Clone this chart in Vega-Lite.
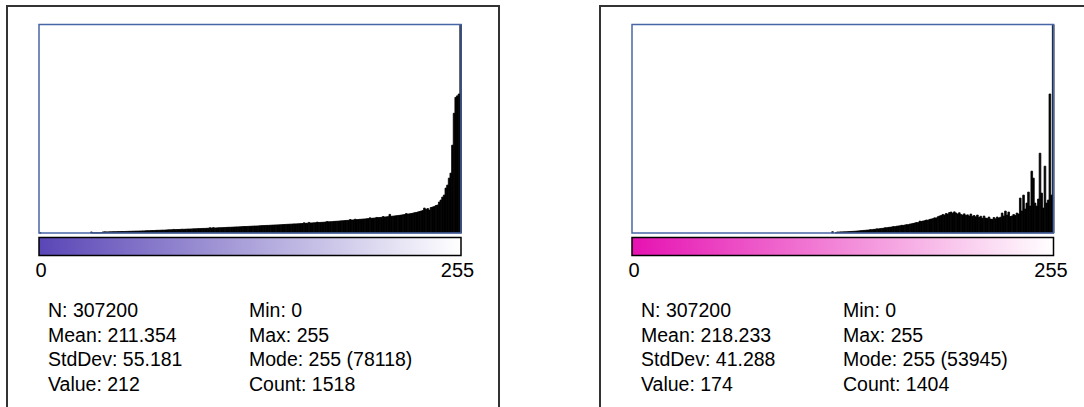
{
"$schema": "https://vega.github.io/schema/vega-lite/v6.json",
"background": "white",
"padding": {"left": 6, "top": 5, "right": 0, "bottom": 0},
"config": {"view": {"stroke": "#333333", "strokeWidth": 2}, "font": "Liberation Sans"},
"spacing": 99,
"datasets": {
"h1": [{"v":0,"c":10},{"v":1,"c":0},{"v":2,"c":0},{"v":3,"c":0},{"v":4,"c":0},{"v":5,"c":0},{"v":6,"c":0},{"v":7,"c":0},{"v":8,"c":0},{"v":9,"c":0},{"v":10,"c":0},{"v":11,"c":0},{"v":12,"c":0},{"v":13,"c":0},{"v":14,"c":0},{"v":15,"c":0},{"v":16,"c":0},{"v":17,"c":0},{"v":18,"c":0},{"v":19,"c":0},{"v":20,"c":0},{"v":21,"c":0},{"v":22,"c":0},{"v":23,"c":0},{"v":24,"c":0},{"v":25,"c":0},{"v":26,"c":0},{"v":27,"c":0},{"v":28,"c":0},{"v":29,"c":0},{"v":30,"c":0},{"v":31,"c":82},{"v":32,"c":10},{"v":33,"c":12},{"v":34,"c":10},{"v":35,"c":15},{"v":36,"c":12},{"v":37,"c":20},{"v":38,"c":82},{"v":39,"c":98},{"v":40,"c":90},{"v":41,"c":90},{"v":42,"c":98},{"v":43,"c":98},{"v":44,"c":106},{"v":45,"c":106},{"v":46,"c":106},{"v":47,"c":114},{"v":48,"c":114},{"v":49,"c":122},{"v":50,"c":122},{"v":51,"c":122},{"v":52,"c":130},{"v":53,"c":130},{"v":54,"c":139},{"v":55,"c":139},{"v":56,"c":147},{"v":57,"c":147},{"v":58,"c":155},{"v":59,"c":155},{"v":60,"c":163},{"v":61,"c":163},{"v":62,"c":171},{"v":63,"c":171},{"v":64,"c":179},{"v":65,"c":187},{"v":66,"c":187},{"v":67,"c":196},{"v":68,"c":204},{"v":69,"c":204},{"v":70,"c":212},{"v":71,"c":220},{"v":72,"c":220},{"v":73,"c":228},{"v":74,"c":236},{"v":75,"c":236},{"v":76,"c":245},{"v":77,"c":253},{"v":78,"c":261},{"v":79,"c":261},{"v":80,"c":269},{"v":81,"c":293},{"v":82,"c":277},{"v":83,"c":285},{"v":84,"c":285},{"v":85,"c":293},{"v":86,"c":310},{"v":87,"c":302},{"v":88,"c":310},{"v":89,"c":318},{"v":90,"c":326},{"v":91,"c":326},{"v":92,"c":334},{"v":93,"c":342},{"v":94,"c":342},{"v":95,"c":350},{"v":96,"c":359},{"v":97,"c":359},{"v":98,"c":367},{"v":99,"c":375},{"v":100,"c":375},{"v":101,"c":383},{"v":102,"c":391},{"v":103,"c":432},{"v":104,"c":399},{"v":105,"c":440},{"v":106,"c":408},{"v":107,"c":416},{"v":108,"c":424},{"v":109,"c":432},{"v":110,"c":432},{"v":111,"c":440},{"v":112,"c":448},{"v":113,"c":456},{"v":114,"c":465},{"v":115,"c":465},{"v":116,"c":473},{"v":117,"c":481},{"v":118,"c":489},{"v":119,"c":497},{"v":120,"c":497},{"v":121,"c":505},{"v":122,"c":513},{"v":123,"c":522},{"v":124,"c":530},{"v":125,"c":530},{"v":126,"c":538},{"v":127,"c":546},{"v":128,"c":554},{"v":129,"c":562},{"v":130,"c":571},{"v":131,"c":571},{"v":132,"c":579},{"v":133,"c":587},{"v":134,"c":595},{"v":135,"c":603},{"v":136,"c":611},{"v":137,"c":619},{"v":138,"c":619},{"v":139,"c":628},{"v":140,"c":636},{"v":141,"c":644},{"v":142,"c":652},{"v":143,"c":660},{"v":144,"c":660},{"v":145,"c":668},{"v":146,"c":676},{"v":147,"c":685},{"v":148,"c":693},{"v":149,"c":701},{"v":150,"c":709},{"v":151,"c":717},{"v":152,"c":725},{"v":153,"c":734},{"v":154,"c":742},{"v":155,"c":742},{"v":156,"c":750},{"v":157,"c":758},{"v":158,"c":766},{"v":159,"c":774},{"v":160,"c":831},{"v":161,"c":791},{"v":162,"c":799},{"v":163,"c":864},{"v":164,"c":815},{"v":165,"c":823},{"v":166,"c":831},{"v":167,"c":839},{"v":168,"c":888},{"v":169,"c":856},{"v":170,"c":864},{"v":171,"c":872},{"v":172,"c":880},{"v":173,"c":897},{"v":174,"c":937},{"v":175,"c":913},{"v":176,"c":921},{"v":177,"c":929},{"v":178,"c":945},{"v":179,"c":954},{"v":180,"c":962},{"v":181,"c":970},{"v":182,"c":986},{"v":183,"c":994},{"v":184,"c":1002},{"v":185,"c":1019},{"v":186,"c":1027},{"v":187,"c":1035},{"v":188,"c":1100},{"v":189,"c":1060},{"v":190,"c":1068},{"v":191,"c":1125},{"v":192,"c":1092},{"v":193,"c":1100},{"v":194,"c":1117},{"v":195,"c":1125},{"v":196,"c":1141},{"v":197,"c":1149},{"v":198,"c":1165},{"v":199,"c":1174},{"v":200,"c":1239},{"v":201,"c":1198},{"v":202,"c":1214},{"v":203,"c":1223},{"v":204,"c":1271},{"v":205,"c":1255},{"v":206,"c":1263},{"v":207,"c":1280},{"v":208,"c":1345},{"v":209,"c":1304},{"v":210,"c":1320},{"v":211,"c":1337},{"v":212,"c":1518},{"v":213,"c":1361},{"v":214,"c":1377},{"v":215,"c":1394},{"v":216,"c":1410},{"v":217,"c":1426},{"v":218,"c":1443},{"v":219,"c":1467},{"v":220,"c":1483},{"v":221,"c":1508},{"v":222,"c":1589},{"v":223,"c":1549},{"v":224,"c":1565},{"v":225,"c":1589},{"v":226,"c":1614},{"v":227,"c":1654},{"v":228,"c":1679},{"v":229,"c":1712},{"v":230,"c":1752},{"v":231,"c":1793},{"v":232,"c":1834},{"v":233,"c":2038},{"v":234,"c":1915},{"v":235,"c":1997},{"v":236,"c":1875},{"v":237,"c":2078},{"v":238,"c":2119},{"v":239,"c":2160},{"v":240,"c":2241},{"v":241,"c":2282},{"v":242,"c":2527},{"v":243,"c":2690},{"v":244,"c":2934},{"v":245,"c":3097},{"v":246,"c":3668},{"v":247,"c":3912},{"v":248,"c":4483},{"v":249,"c":4890},{"v":250,"c":7172},{"v":251,"c":9780},{"v":252,"c":11084},{"v":253,"c":11206},{"v":254,"c":11357},{"v":255,"c":78118}],
"h2": [{"v":0,"c":0},{"v":1,"c":0},{"v":2,"c":0},{"v":3,"c":0},{"v":4,"c":0},{"v":5,"c":0},{"v":6,"c":0},{"v":7,"c":0},{"v":8,"c":0},{"v":9,"c":0},{"v":10,"c":0},{"v":11,"c":0},{"v":12,"c":0},{"v":13,"c":0},{"v":14,"c":0},{"v":15,"c":0},{"v":16,"c":0},{"v":17,"c":0},{"v":18,"c":0},{"v":19,"c":0},{"v":20,"c":0},{"v":21,"c":0},{"v":22,"c":0},{"v":23,"c":0},{"v":24,"c":0},{"v":25,"c":0},{"v":26,"c":0},{"v":27,"c":0},{"v":28,"c":0},{"v":29,"c":0},{"v":30,"c":0},{"v":31,"c":0},{"v":32,"c":0},{"v":33,"c":0},{"v":34,"c":0},{"v":35,"c":0},{"v":36,"c":0},{"v":37,"c":0},{"v":38,"c":0},{"v":39,"c":0},{"v":40,"c":0},{"v":41,"c":0},{"v":42,"c":0},{"v":43,"c":0},{"v":44,"c":0},{"v":45,"c":0},{"v":46,"c":0},{"v":47,"c":0},{"v":48,"c":0},{"v":49,"c":0},{"v":50,"c":0},{"v":51,"c":0},{"v":52,"c":0},{"v":53,"c":0},{"v":54,"c":0},{"v":55,"c":0},{"v":56,"c":0},{"v":57,"c":0},{"v":58,"c":0},{"v":59,"c":0},{"v":60,"c":0},{"v":61,"c":0},{"v":62,"c":0},{"v":63,"c":0},{"v":64,"c":0},{"v":65,"c":0},{"v":66,"c":0},{"v":67,"c":0},{"v":68,"c":0},{"v":69,"c":0},{"v":70,"c":0},{"v":71,"c":0},{"v":72,"c":0},{"v":73,"c":0},{"v":74,"c":0},{"v":75,"c":0},{"v":76,"c":0},{"v":77,"c":0},{"v":78,"c":0},{"v":79,"c":0},{"v":80,"c":0},{"v":81,"c":0},{"v":82,"c":0},{"v":83,"c":0},{"v":84,"c":0},{"v":85,"c":0},{"v":86,"c":0},{"v":87,"c":0},{"v":88,"c":0},{"v":89,"c":0},{"v":90,"c":0},{"v":91,"c":0},{"v":92,"c":0},{"v":93,"c":0},{"v":94,"c":0},{"v":95,"c":0},{"v":96,"c":0},{"v":97,"c":0},{"v":98,"c":0},{"v":99,"c":0},{"v":100,"c":0},{"v":101,"c":0},{"v":102,"c":0},{"v":103,"c":0},{"v":104,"c":0},{"v":105,"c":0},{"v":106,"c":0},{"v":107,"c":0},{"v":108,"c":0},{"v":109,"c":0},{"v":110,"c":0},{"v":111,"c":0},{"v":112,"c":0},{"v":113,"c":0},{"v":114,"c":0},{"v":115,"c":0},{"v":116,"c":0},{"v":117,"c":0},{"v":118,"c":0},{"v":119,"c":0},{"v":120,"c":0},{"v":121,"c":150},{"v":122,"c":0},{"v":123,"c":30},{"v":124,"c":118},{"v":125,"c":118},{"v":126,"c":130},{"v":127,"c":130},{"v":128,"c":142},{"v":129,"c":142},{"v":130,"c":154},{"v":131,"c":166},{"v":132,"c":178},{"v":133,"c":190},{"v":134,"c":201},{"v":135,"c":213},{"v":136,"c":237},{"v":137,"c":249},{"v":138,"c":273},{"v":139,"c":284},{"v":140,"c":308},{"v":141,"c":320},{"v":142,"c":344},{"v":143,"c":356},{"v":144,"c":403},{"v":145,"c":391},{"v":146,"c":427},{"v":147,"c":450},{"v":148,"c":498},{"v":149,"c":486},{"v":150,"c":521},{"v":151,"c":545},{"v":152,"c":569},{"v":153,"c":628},{"v":154,"c":616},{"v":155,"c":664},{"v":156,"c":687},{"v":157,"c":711},{"v":158,"c":770},{"v":159,"c":747},{"v":160,"c":806},{"v":161,"c":830},{"v":162,"c":853},{"v":163,"c":912},{"v":164,"c":901},{"v":165,"c":948},{"v":166,"c":995},{"v":167,"c":984},{"v":168,"c":1055},{"v":169,"c":1090},{"v":170,"c":1138},{"v":171,"c":1185},{"v":172,"c":1244},{"v":173,"c":1232},{"v":174,"c":1404},{"v":175,"c":1375},{"v":176,"c":1422},{"v":177,"c":1458},{"v":178,"c":1541},{"v":179,"c":1517},{"v":180,"c":1612},{"v":181,"c":1659},{"v":182,"c":1706},{"v":183,"c":1801},{"v":184,"c":1778},{"v":185,"c":1920},{"v":186,"c":2015},{"v":187,"c":2074},{"v":188,"c":2204},{"v":189,"c":2133},{"v":190,"c":2311},{"v":191,"c":2252},{"v":192,"c":2429},{"v":193,"c":2489},{"v":194,"c":2346},{"v":195,"c":2512},{"v":196,"c":2370},{"v":197,"c":2252},{"v":198,"c":2406},{"v":199,"c":2192},{"v":200,"c":2133},{"v":201,"c":2275},{"v":202,"c":2086},{"v":203,"c":2157},{"v":204,"c":2015},{"v":205,"c":2252},{"v":206,"c":1991},{"v":207,"c":2074},{"v":208,"c":1920},{"v":209,"c":2133},{"v":210,"c":1837},{"v":211,"c":1991},{"v":212,"c":1754},{"v":213,"c":2015},{"v":214,"c":1778},{"v":215,"c":1718},{"v":216,"c":1896},{"v":217,"c":1659},{"v":218,"c":1600},{"v":219,"c":1837},{"v":220,"c":1683},{"v":221,"c":1896},{"v":222,"c":1778},{"v":223,"c":1872},{"v":224,"c":2370},{"v":225,"c":2015},{"v":226,"c":2607},{"v":227,"c":2133},{"v":228,"c":2489},{"v":229,"c":1955},{"v":230,"c":2015},{"v":231,"c":2192},{"v":232,"c":2074},{"v":233,"c":2370},{"v":234,"c":2252},{"v":235,"c":4148},{"v":236,"c":2607},{"v":237,"c":4503},{"v":238,"c":2844},{"v":239,"c":3555},{"v":240,"c":4859},{"v":241,"c":3200},{"v":242,"c":7347},{"v":243,"c":6518},{"v":244,"c":3555},{"v":245,"c":3200},{"v":246,"c":4029},{"v":247,"c":9480},{"v":248,"c":4740},{"v":249,"c":2963},{"v":250,"c":7940},{"v":251,"c":3555},{"v":252,"c":3911},{"v":253,"c":16517},{"v":254,"c":4503},{"v":255,"c":53945}],
"s1": [{"col":0,"row":0,"t":"N: 307200"},{"col":0,"row":1,"t":"Mean: 211.354"},{"col":0,"row":2,"t":"StdDev: 55.181"},{"col":0,"row":3,"t":"Value: 212"},{"col":1,"row":0,"t":"Min: 0"},{"col":1,"row":1,"t":"Max: 255"},{"col":1,"row":2,"t":"Mode: 255 (78118)"},{"col":1,"row":3,"t":"Count: 1518"}],
"s2": [{"col":0,"row":0,"t":"N: 307200"},{"col":0,"row":1,"t":"Mean: 218.233"},{"col":0,"row":2,"t":"StdDev: 41.288"},{"col":0,"row":3,"t":"Value: 174"},{"col":1,"row":0,"t":"Min: 0"},{"col":1,"row":1,"t":"Max: 255"},{"col":1,"row":2,"t":"Mode: 255 (53945)"},{"col":1,"row":3,"t":"Count: 1404"}],
"ticks": [{"p":0,"t":"0"},{"p":1,"t":"255"}]
},
"hconcat": [
{
"width": 492, "height": 420,
"resolve": {"scale": {"x": "independent", "y": "independent"}},
"layer": [
{
"layer": [
{"data": {"name": "h1"}, "transform": [{"filter": "datum.c > 0"}],
 "mark": {"type": "bar", "color": "black", "stroke": "black", "strokeWidth": 0.8, "binSpacing": 0},
 "encoding": {
  "x": {"field": "v", "type": "quantitative", "bin": {"step": 1, "extent": [0, 256]}, "scale": {"domain": [0, 256], "range": [32, 454], "nice": false, "zero": false}, "axis": null},
  "y": {"field": "c", "type": "quantitative", "scale": {"domain": [0, 17035], "range": [227, 18.5], "clamp": true, "nice": false, "zero": true}, "axis": null}
 }},
{"data": {"values": [{}]},
 "mark": {"type": "rect", "fill": null, "stroke": "#4766a6", "strokeWidth": 1.5},
 "encoding": {"x": {"datum": 0, "type": "quantitative"}, "x2": {"datum": 256}, "y": {"datum": 0, "type": "quantitative"}, "y2": {"datum": 17035}}}
]
},
{"data": {"values": [{}]},
 "mark": {"type": "rect", "stroke": "black", "strokeWidth": 1.5, "fill": {"gradient": "linear", "x1": 0, "y1": 0, "x2": 1, "y2": 0, "stops": [{"offset": 0, "color": "#5a46b6"}, {"offset": 1, "color": "#ffffff"}]}},
 "encoding": {
  "x": {"datum": 0, "type": "quantitative", "scale": {"domain": [0, 1], "range": [32, 454], "nice": false, "zero": false}, "axis": null},
  "x2": {"datum": 1},
  "y": {"datum": 0, "type": "quantitative", "scale": {"domain": [0, 1], "range": [249.5, 231.5], "nice": false, "zero": false}, "axis": null},
  "y2": {"datum": 1}
 }},
{"data": {"name": "ticks"},
 "mark": {"type": "text", "fontSize": 20, "align": "center", "baseline": "alphabetic", "color": "black"},
 "encoding": {
  "x": {"field": "p", "type": "quantitative", "scale": {"domain": [0, 1], "range": [34, 450.5], "nice": false, "zero": false}, "axis": null},
  "y": {"datum": 0, "type": "quantitative", "scale": {"domain": [0, 1], "range": [271, 0], "nice": false, "zero": false}, "axis": null},
  "text": {"field": "t"}
 }},
{"data": {"name": "s1"},
 "mark": {"type": "text", "fontSize": 19.5, "align": "left", "baseline": "alphabetic", "color": "black"},
 "encoding": {
  "x": {"field": "col", "type": "quantitative", "scale": {"domain": [0, 1], "range": [41, 242], "nice": false, "zero": false}, "axis": null},
  "y": {"field": "row", "type": "quantitative", "scale": {"domain": [0, 3], "range": [311.3, 384.5], "nice": false, "zero": false}, "axis": null},
  "text": {"field": "t"}
 }}
]
},
{
"width": 492, "height": 420,
"resolve": {"scale": {"x": "independent", "y": "independent"}},
"layer": [
{
"layer": [
{"data": {"name": "h2"}, "transform": [{"filter": "datum.c > 0"}],
 "mark": {"type": "bar", "color": "black", "stroke": "black", "strokeWidth": 0.8, "binSpacing": 0},
 "encoding": {
  "x": {"field": "v", "type": "quantitative", "bin": {"step": 1, "extent": [0, 256]}, "scale": {"domain": [0, 256], "range": [32, 453.5], "nice": false, "zero": false}, "axis": null},
  "y": {"field": "c", "type": "quantitative", "scale": {"domain": [0, 24775], "range": [227, 18.5], "clamp": true, "nice": false, "zero": true}, "axis": null}
 }},
{"data": {"values": [{}]},
 "mark": {"type": "rect", "fill": null, "stroke": "#4766a6", "strokeWidth": 1.5},
 "encoding": {"x": {"datum": 0, "type": "quantitative"}, "x2": {"datum": 256}, "y": {"datum": 0, "type": "quantitative"}, "y2": {"datum": 24775}}}
]
},
{"data": {"values": [{}]},
 "mark": {"type": "rect", "stroke": "black", "strokeWidth": 1.5, "fill": {"gradient": "linear", "x1": 0, "y1": 0, "x2": 1, "y2": 0, "stops": [{"offset": 0, "color": "#e612b2"}, {"offset": 1, "color": "#ffffff"}]}},
 "encoding": {
  "x": {"datum": 0, "type": "quantitative", "scale": {"domain": [0, 1], "range": [32, 453.5], "nice": false, "zero": false}, "axis": null},
  "x2": {"datum": 1},
  "y": {"datum": 0, "type": "quantitative", "scale": {"domain": [0, 1], "range": [249.5, 231.5], "nice": false, "zero": false}, "axis": null},
  "y2": {"datum": 1}
 }},
{"data": {"name": "ticks"},
 "mark": {"type": "text", "fontSize": 20, "align": "center", "baseline": "alphabetic", "color": "black"},
 "encoding": {
  "x": {"field": "p", "type": "quantitative", "scale": {"domain": [0, 1], "range": [34, 451], "nice": false, "zero": false}, "axis": null},
  "y": {"datum": 0, "type": "quantitative", "scale": {"domain": [0, 1], "range": [271, 0], "nice": false, "zero": false}, "axis": null},
  "text": {"field": "t"}
 }},
{"data": {"name": "s2"},
 "mark": {"type": "text", "fontSize": 19.5, "align": "left", "baseline": "alphabetic", "color": "black"},
 "encoding": {
  "x": {"field": "col", "type": "quantitative", "scale": {"domain": [0, 1], "range": [41, 243], "nice": false, "zero": false}, "axis": null},
  "y": {"field": "row", "type": "quantitative", "scale": {"domain": [0, 3], "range": [311.3, 384.5], "nice": false, "zero": false}, "axis": null},
  "text": {"field": "t"}
 }}
]
}
]
}
